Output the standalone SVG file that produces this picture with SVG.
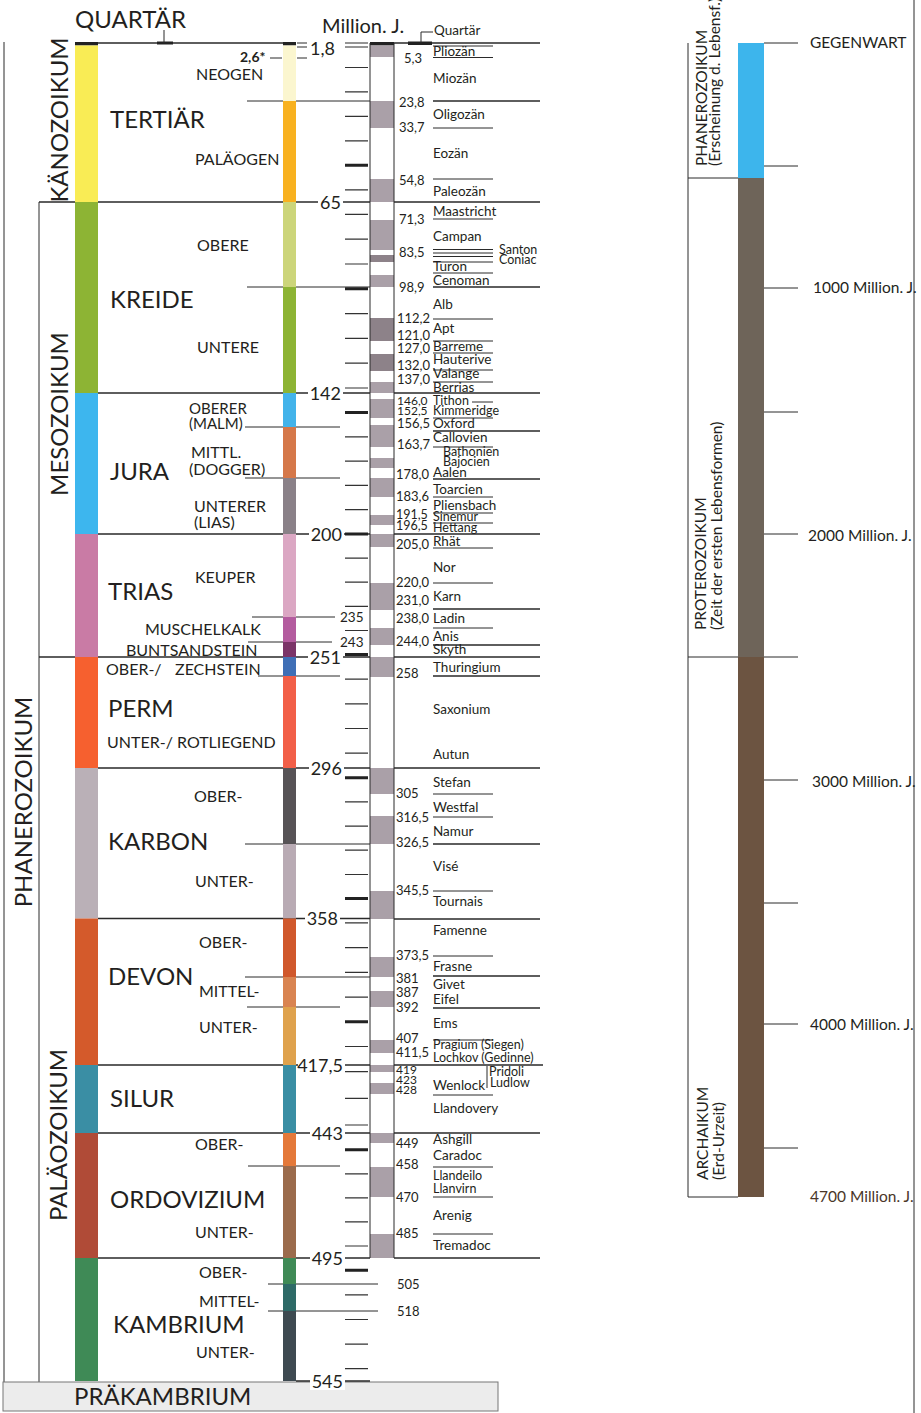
<svg xmlns="http://www.w3.org/2000/svg" width="921" height="1413" viewBox="0 0 921 1413">
<style>
text{font-family:Lato,"Liberation Sans",sans-serif;fill:#231f20}
.era{font-size:24px;text-anchor:middle}
.per{font-size:24px}
.sub{font-size:16px}
.stg{font-size:13.5px}
.num{font-size:13px}
.sm{font-size:12.5px}
.xs{font-size:12px}
.big{font-size:18px;text-anchor:end}
.rp{font-size:15.5px}
.ln{stroke:#2a2a2a;stroke-width:1;fill:none}
.lb{stroke:#2a2a2a;stroke-width:1.3;fill:none}
.tk{stroke:#333;stroke-width:1.2;fill:none}
.tkb{stroke:#222;stroke-width:3;fill:none}
.g{fill:#aaa0a8}
.gd{fill:#8d8289}
.wb{fill:#fff}
</style>
<rect width="921" height="1413" fill="#fff"/>

<g id="frame">
<path class="ln" d="M4 42V1382 M39 202V1382"/>
<rect x="3" y="1382" width="495" height="29" fill="#ececec" stroke="#777" stroke-width="1"/>
</g>

<g id="connectors">
<path class="lb" d="M75 43H296 M39 202H75 M98 202H370 M98 393H370 M98 534H370 M39 657H75 M98 657H370 M98 768H370 M98 918.5H370 M98 1065H370 M98 1133H370 M98 1258H370 M296 1381H370"/>
<path class="tkb" d="M157 43H173"/>
<path class="ln" d="M164 30V43"/>
<path class="ln" d="M247 101H370 M247 287H370 M245 427H340 M245 478H340 M252 617H335 M248 642H332 M258 676H340 M245 844H370 M245 977H370 M247 1007H340 M248 1166H340 M268 1284H378 M268 1311H378"/>
<path class="ln" d="M297 43H307 M297 47H307 M345 43H368 M345 47H368 M270 58H282 M297 58H307"/>
<path class="tk" d="M345 67.5H368 M345 91.9H368 M345 116.4H368 M345 140.8H368 M345 189.8H368 M345 214.4H368 M345 239.2H368 M345 264H368 M345 313.6H368 M345 338.4H368 M345 363.2H368 M345 388H368 M345 436.8H368 M345 461.1H368 M345 485.4H368 M345 509.7H368 M345 558.1H368 M345 582.2H368 M345 606.4H368 M345 630.5H368 M345 679.2H368 M345 703.9H368 M345 728.5H368 M345 753.2H368 M345 801.9H368 M345 826.1H368 M345 850.2H368 M345 874.5H368 M345 922.9H368 M345 947.7H368 M345 972.4H368 M345 997.1H368 M345 1046.5H368 M345 1071.7H368 M345 1098.3H368 M345 1125H368 M345 1173.9H368 M345 1197.9H368 M345 1221.9H368 M345 1246H368 M345 1294.9H368 M345 1319.5H368 M345 1344.1H368 M345 1368.6H368"/>
<path class="tkb" d="M345 165.3H368 M345 288.8H368 M345 412.4H368 M345 534H368 M345 654.6H368 M345 777.7H368 M345 898.6H368 M345 1021.8H368 M345 1149.8H368 M345 1270.3H368"/>
<path class="lb" d="M394 43H540 M394 202H540 M394 393H540 M394 534H540 M394 657H540 M394 768H540 M394 919H540 M394 1065H543 M394 1133H540 M394 1258H540"/>
<path class="lb" d="M433 101H540 M433 287H540 M433 431H540 M433 479H540 M433 609H540 M433 645H540 M433 676H540 M433 844H540 M433 976H540 M433 1008H540"/>
<path class="ln" d="M433 46H493 M433 57.5H493 M433 128H493 M433 179H493 M433 219H493 M433 249.5H493 M433 253H493 M433 256.5H493 M433 262H493 M433 273H493 M433 319H493 M433 341H493 M433 353H493 M433 370H493 M433 382H493 M472 402H493 M433 418H493 M433 447H493 M433 497H493 M433 513H493 M433 523H493 M433 548H493 M433 583H493 M433 628H493 M433 794H493 M433 817H493 M433 891H493 M433 956H493 M433 1040H493 M433 1095H493 M433 1167H493 M433 1197H493 M433 1234H493 M487 1066V1088"/>
<rect x="408" y="41.5" width="24" height="3.5" fill="#222"/>
<path class="ln" d="M421 43V32H433"/>
</g>

<g id="bars-left">
<rect x="75" y="42" width="23" height="3.5" fill="#222"/>
<rect x="75" y="45.5" width="23" height="156.5" fill="#f9ec55"/>
<rect x="75" y="202" width="23" height="191" fill="#8db434"/>
<rect x="75" y="393" width="23" height="141" fill="#3db6ee"/>
<rect x="75" y="534" width="23" height="123" fill="#c97ba5"/>
<rect x="75" y="657" width="23" height="111" fill="#f6602f"/>
<rect x="75" y="768" width="23" height="150.5" fill="#bab0b7"/>
<rect x="75" y="918.5" width="23" height="146.5" fill="#d45a2b"/>
<rect x="75" y="1065" width="23" height="68" fill="#3a8ea4"/>
<rect x="75" y="1133" width="23" height="125" fill="#b04b37"/>
<rect x="75" y="1258" width="23" height="123" fill="#3f8a56"/>
</g>

<g id="bars-right">
<rect x="283" y="42" width="13" height="3.5" fill="#222"/>
<rect x="283" y="45.5" width="13" height="55.5" fill="#fbf6cf"/>
<rect x="283" y="101" width="13" height="101" fill="#f8b11f"/>
<rect x="283" y="202" width="13" height="85" fill="#ccd57a"/>
<rect x="283" y="287" width="13" height="106" fill="#8db434"/>
<rect x="283" y="393" width="13" height="34" fill="#43b3ea"/>
<rect x="283" y="427" width="13" height="51" fill="#d5784a"/>
<rect x="283" y="478" width="13" height="56" fill="#8a8188"/>
<rect x="283" y="534" width="13" height="83" fill="#dba7c3"/>
<rect x="283" y="617" width="13" height="25" fill="#b45c9f"/>
<rect x="283" y="642" width="13" height="15" fill="#7b3468"/>
<rect x="283" y="657" width="13" height="19" fill="#3f6fb6"/>
<rect x="283" y="676" width="13" height="92" fill="#f25f48"/>
<rect x="283" y="768" width="13" height="76" fill="#575356"/>
<rect x="283" y="844" width="13" height="74.5" fill="#b9abb4"/>
<rect x="283" y="918.5" width="13" height="58.5" fill="#d0582c"/>
<rect x="283" y="977" width="13" height="30" fill="#d98451"/>
<rect x="283" y="1007" width="13" height="58" fill="#dfa24d"/>
<rect x="283" y="1065" width="13" height="68" fill="#3a8ea4"/>
<rect x="283" y="1133" width="13" height="33" fill="#e4793a"/>
<rect x="283" y="1166" width="13" height="92" fill="#9b6b4c"/>
<rect x="283" y="1258" width="13" height="26" fill="#3f8a56"/>
<rect x="283" y="1284" width="13" height="27" fill="#2e6a67"/>
<rect x="283" y="1311" width="13" height="70" fill="#3e4a51"/>
</g>

<g id="stage-column">
<rect x="370" y="42" width="24" height="3.5" fill="#222"/>
<rect class="g" x="370" y="45.5" width="24" height="11.5"/>
<rect class="g" x="370" y="101" width="24" height="27"/>
<rect class="g" x="370" y="179" width="24" height="23"/>
<rect class="g" x="370" y="220" width="24" height="30"/>
<rect class="gd" x="370" y="255" width="24" height="7"/>
<rect class="g" x="370" y="275" width="24" height="12"/>
<rect class="gd" x="370" y="318" width="24" height="23"/>
<rect class="gd" x="370" y="354" width="24" height="17"/>
<rect class="g" x="370" y="382" width="24" height="11"/>
<rect class="g" x="370" y="399" width="24" height="19"/>
<rect class="g" x="370" y="425" width="24" height="22"/>
<rect class="g" x="370" y="458" width="24" height="10"/>
<rect class="g" x="370" y="478" width="24" height="19"/>
<rect class="g" x="370" y="515" width="24" height="10"/>
<rect class="g" x="370" y="534" width="24" height="13"/>
<rect class="g" x="370" y="583" width="24" height="27"/>
<rect class="g" x="370" y="628" width="24" height="17"/>
<rect class="g" x="370" y="657" width="24" height="20"/>
<rect class="g" x="370" y="768" width="24" height="26"/>
<rect class="g" x="370" y="816" width="24" height="28"/>
<rect class="g" x="370" y="891" width="24" height="28"/>
<rect class="g" x="370" y="957" width="24" height="20"/>
<rect class="g" x="370" y="991" width="24" height="16"/>
<rect class="g" x="370" y="1040" width="24" height="13"/>
<rect class="g" x="370" y="1065" width="24" height="7"/>
<rect class="g" x="370" y="1083" width="24" height="11"/>
<rect class="g" x="370" y="1133" width="24" height="10"/>
<rect class="g" x="370" y="1167" width="24" height="30"/>
<rect class="g" x="370" y="1234" width="24" height="24"/>
<path class="ln" d="M370 43V1258 M394 43V1258"/>
</g>

<g id="era-labels">
<text class="era" transform="translate(68,120) rotate(-90)">KÄNOZOIKUM</text>
<text class="era" transform="translate(68,414) rotate(-90)">MESOZOIKUM</text>
<text class="era" transform="translate(32,802) rotate(-90)">PHANEROZOIKUM</text>
<text class="era" transform="translate(67,1135) rotate(-90)">PALÄOZOIKUM</text>
<text class="per" x="75" y="28">QUARTÄR</text>
<text style="font-size:20px" x="322" y="33">Million. J.</text>
<text class="per" x="74" y="1405">PRÄKAMBRIUM</text>
</g>

<g id="period-labels">
<text class="per" x="110" y="128">TERTIÄR</text>
<text class="per" x="110" y="308">KREIDE</text>
<text class="per" x="110" y="480">JURA</text>
<text class="per" x="108" y="600">TRIAS</text>
<text class="per" x="108" y="717">PERM</text>
<text class="per" x="108" y="850">KARBON</text>
<text class="per" x="108" y="985">DEVON</text>
<text class="per" x="110" y="1107">SILUR</text>
<text class="per" x="110" y="1208">ORDOVIZIUM</text>
<text class="per" x="113" y="1333">KAMBRIUM</text>
</g>

<g id="sub-labels">
<text class="sub" x="196" y="80">NEOGEN</text>
<text class="sub" x="195" y="165">PALÄOGEN</text>
<text class="sub" x="197" y="251">OBERE</text>
<text class="sub" x="197" y="353">UNTERE</text>
<text class="sub" style="font-size:15px" x="189" y="414">OBERER</text>
<text class="sub" style="font-size:15px" x="189" y="429">(MALM)</text>
<text class="sub" x="191" y="458">MITTL.</text>
<text class="sub" x="189" y="475">(DOGGER)</text>
<text class="sub" x="194" y="512">UNTERER</text>
<text class="sub" x="194" y="528">(LIAS)</text>
<text class="sub" x="195" y="583">KEUPER</text>
<text class="sub" x="145" y="635">MUSCHELKALK</text>
<text class="sub" x="126" y="656">BUNTSANDSTEIN</text>
<text class="sub" x="106" y="675">OBER-/</text>
<text class="sub" x="175" y="675">ZECHSTEIN</text>
<text class="sub" x="107" y="748">UNTER-/ ROTLIEGEND</text>
<text class="sub" x="194" y="802">OBER-</text>
<text class="sub" x="195" y="887">UNTER-</text>
<text class="sub" x="199" y="948">OBER-</text>
<text class="sub" x="199" y="997">MITTEL-</text>
<text class="sub" x="199" y="1033">UNTER-</text>
<text class="sub" x="195" y="1150">OBER-</text>
<text class="sub" x="195" y="1238">UNTER-</text>
<text class="sub" x="199" y="1278">OBER-</text>
<text class="sub" x="199" y="1307">MITTEL-</text>
<text class="sub" x="196" y="1358">UNTER-</text>
<text style="font-size:14px;font-weight:bold" x="240" y="62">2,6*</text>
<text class="num" style="font-size:13.5px" x="340" y="622">235</text>
<text class="num" style="font-size:13.5px" x="340" y="647">243</text>
<text class="num" x="397" y="1289">505</text>
<text class="num" x="397" y="1316">518</text>
</g>

<g id="boundary-labels">
<text class="big" style="text-anchor:start" x="310" y="55">1,8</text>
<rect class="wb" x="318" y="193" width="25" height="18"/><text class="big" x="341" y="208.5">65</text>
<rect class="wb" x="308" y="384" width="35" height="18"/><text class="big" x="341" y="399.5">142</text>
<rect class="wb" x="309" y="525" width="35" height="18"/><text class="big" x="342" y="540.5">200</text>
<rect class="wb" x="308" y="648" width="35" height="18"/><text class="big" x="341" y="663.5">251</text>
<rect class="wb" x="309" y="759" width="35" height="18"/><text class="big" x="342" y="774.5">296</text>
<rect class="wb" x="305" y="909.5" width="35" height="18"/><text class="big" x="338" y="925">358</text>
<rect class="wb" x="298" y="1056" width="47" height="18"/><text class="big" x="343" y="1071.5">417,5</text>
<rect class="wb" x="310" y="1124" width="35" height="18"/><text class="big" x="343" y="1139.5">443</text>
<rect class="wb" x="310" y="1249" width="35" height="18"/><text class="big" x="343" y="1264.5">495</text>
<rect class="wb" x="310" y="1372" width="35" height="18"/><text class="big" x="343" y="1387.5">545</text>
</g>

<g id="stage-numbers">
<text class="num" x="404" y="62.5">5,3</text>
<text class="num" x="399" y="107">23,8</text>
<text class="num" x="399" y="132">33,7</text>
<text class="num" x="399" y="185">54,8</text>
<text class="num" x="399" y="224">71,3</text>
<text class="num" x="399" y="257">83,5</text>
<text class="num" x="399" y="291.5">98,9</text>
<text class="num" x="397" y="323">112,2</text>
<text class="num" x="397" y="340">121,0</text>
<text class="num" x="397" y="353">127,0</text>
<text class="num" x="397" y="369.5">132,0</text>
<text class="num" x="397" y="384">137,0</text>
<text class="xs" x="397" y="404.5">146,0</text>
<text class="xs" x="397" y="415">152,5</text>
<text class="num" x="397" y="427.5">156,5</text>
<text class="num" x="397" y="449">163,7</text>
<text class="num" x="396" y="479">178,0</text>
<text class="num" x="396" y="501">183,6</text>
<text class="sm" x="396" y="518.5">191,5</text>
<text class="sm" x="396" y="530">196,5</text>
<text class="num" x="396" y="549">205,0</text>
<text class="num" x="396" y="587">220,0</text>
<text class="num" x="396" y="605">231,0</text>
<text class="num" x="396" y="623">238,0</text>
<text class="num" x="396" y="646">244,0</text>
<text class="num" x="396" y="678">258</text>
<text class="num" x="396" y="798">305</text>
<text class="num" x="396" y="822">316,5</text>
<text class="num" x="396" y="847">326,5</text>
<text class="num" x="396" y="895">345,5</text>
<text class="num" x="396" y="960">373,5</text>
<text class="num" x="396" y="983">381</text>
<text class="num" x="396" y="997">387</text>
<text class="num" x="396" y="1012">392</text>
<text class="num" x="396" y="1043">407</text>
<text class="num" x="396" y="1057">411,5</text>
<text class="xs" x="396" y="1073.5">419</text>
<text class="xs" x="396" y="1083.5">423</text>
<text class="xs" x="396" y="1094">428</text>
<text class="num" x="396" y="1148">449</text>
<text class="num" x="396" y="1169">458</text>
<text class="num" x="396" y="1202">470</text>
<text class="num" x="396" y="1238">485</text>
</g>

<g id="stage-names">
<text class="stg" x="434" y="35">Quartär</text>
<text class="stg" x="433" y="56">Pliozän</text>
<text class="stg" x="433" y="83">Miozän</text>
<text class="stg" x="433" y="119">Oligozän</text>
<text class="stg" x="433" y="158">Eozän</text>
<text class="stg" x="433" y="196">Paleozän</text>
<text class="stg" x="433" y="216">Maastricht</text>
<text class="stg" x="433" y="241">Campan</text>
<text class="sm" x="499" y="254">Santon</text>
<text class="sm" x="499" y="264">Coniac</text>
<text class="stg" x="433" y="271">Turon</text>
<text class="stg" x="433" y="285">Cenoman</text>
<text class="stg" x="433" y="309">Alb</text>
<text class="stg" x="433" y="333">Apt</text>
<text class="stg" x="433" y="351">Barreme</text>
<text class="stg" x="433" y="364">Hauterive</text>
<text class="stg" x="433" y="378">Valange</text>
<text class="stg" x="433" y="392">Berrias</text>
<text class="sm" x="433" y="405">Tithon</text>
<text class="sm" x="433" y="415">Kimmeridge</text>
<text class="stg" x="433" y="428">Oxford</text>
<text class="stg" x="433" y="442">Callovien</text>
<text class="sm" x="443" y="456">Bathonien</text>
<text class="sm" x="443" y="466">Bajocien</text>
<text class="stg" x="433" y="477">Aalen</text>
<text class="stg" x="433" y="494">Toarcien</text>
<text class="stg" x="433" y="510">Pliensbach</text>
<text class="sm" x="433" y="521">Sinemur</text>
<text class="sm" x="433" y="532">Hettang</text>
<text class="stg" x="433" y="546">Rhät</text>
<text class="stg" x="433" y="572">Nor</text>
<text class="stg" x="433" y="601">Karn</text>
<text class="stg" x="433" y="623">Ladin</text>
<text class="stg" x="433" y="641">Anis</text>
<text class="stg" x="433" y="654">Skyth</text>
<text class="stg" x="433" y="672">Thuringium</text>
<text class="stg" x="433" y="714">Saxonium</text>
<text class="stg" x="433" y="759">Autun</text>
<text class="stg" x="433" y="787">Stefan</text>
<text class="stg" x="433" y="812">Westfal</text>
<text class="stg" x="433" y="836">Namur</text>
<text class="stg" x="433" y="871">Visé</text>
<text class="stg" x="433" y="906">Tournais</text>
<text class="stg" x="433" y="935">Famenne</text>
<text class="stg" x="433" y="971">Frasne</text>
<text class="stg" x="433" y="989">Givet</text>
<text class="stg" x="433" y="1004">Eifel</text>
<text class="stg" x="433" y="1028">Ems</text>
<text class="stg" style="font-size:12.5px" x="433" y="1049">Pragium (Siegen)</text>
<text class="stg" style="font-size:12.5px" x="433" y="1062">Lochkov (Gedinne)</text>
<text class="sm" x="489" y="1075.5">Pridoli</text>
<text class="sm" x="490" y="1086.5">Ludlow</text>
<text class="stg" x="433" y="1090">Wenlock</text>
<text class="stg" x="433" y="1113">Llandovery</text>
<text class="stg" x="433" y="1144">Ashgill</text>
<text class="stg" x="433" y="1160">Caradoc</text>
<text class="stg" style="font-size:12.5px" x="433" y="1180">Llandeilo</text>
<text class="stg" style="font-size:12.5px" x="433" y="1193">Llanvirn</text>
<text class="stg" x="433" y="1220">Arenig</text>
<text class="stg" x="433" y="1250">Tremadoc</text>
</g>

<g id="right-panel">
<path class="ln" d="M914 0V1413 M688 43V1197 M688 178H738 M688 657H738 M688 1197H738"/>
<rect x="738" y="43" width="26" height="135" fill="#3db5ec"/>
<rect x="738" y="178" width="26" height="479" fill="#6e6459"/>
<rect x="738" y="657" width="26" height="540" fill="#6c5441"/>
<path class="ln" d="M764 43H798 M764 166H798 M764 288H798 M764 412H798 M764 534H798 M764 657H798 M764 780H798 M764 903H798 M764 1024H798 M764 1148H798"/>
<text class="rp" x="810" y="48">GEGENWART</text>
<text class="rp" x="813" y="293">1000 Million. J.</text>
<text class="rp" x="808" y="541">2000 Million. J.</text>
<text class="rp" x="812" y="787">3000 Million. J.</text>
<text class="rp" x="810" y="1030">4000 Million. J.</text>
<text class="rp" x="810" y="1202" style="fill:#4a3628">4700 Million. J.</text>
<text class="rp" transform="translate(707,166) rotate(-90)">PHANEROZOIKUM</text>
<text class="rp" transform="translate(720,166) rotate(-90)">(Erscheinung d. Lebensf.)</text>
<text class="rp" transform="translate(706,630) rotate(-90)">PROTEROZOIKUM</text>
<text class="rp" transform="translate(722,630) rotate(-90)">(Zeit der ersten Lebensformen)</text>
<text class="rp" transform="translate(708,1180) rotate(-90)">ARCHAIKUM</text>
<text class="rp" transform="translate(724,1180) rotate(-90)">(Erd-Urzeit)</text>
</g>
</svg>
